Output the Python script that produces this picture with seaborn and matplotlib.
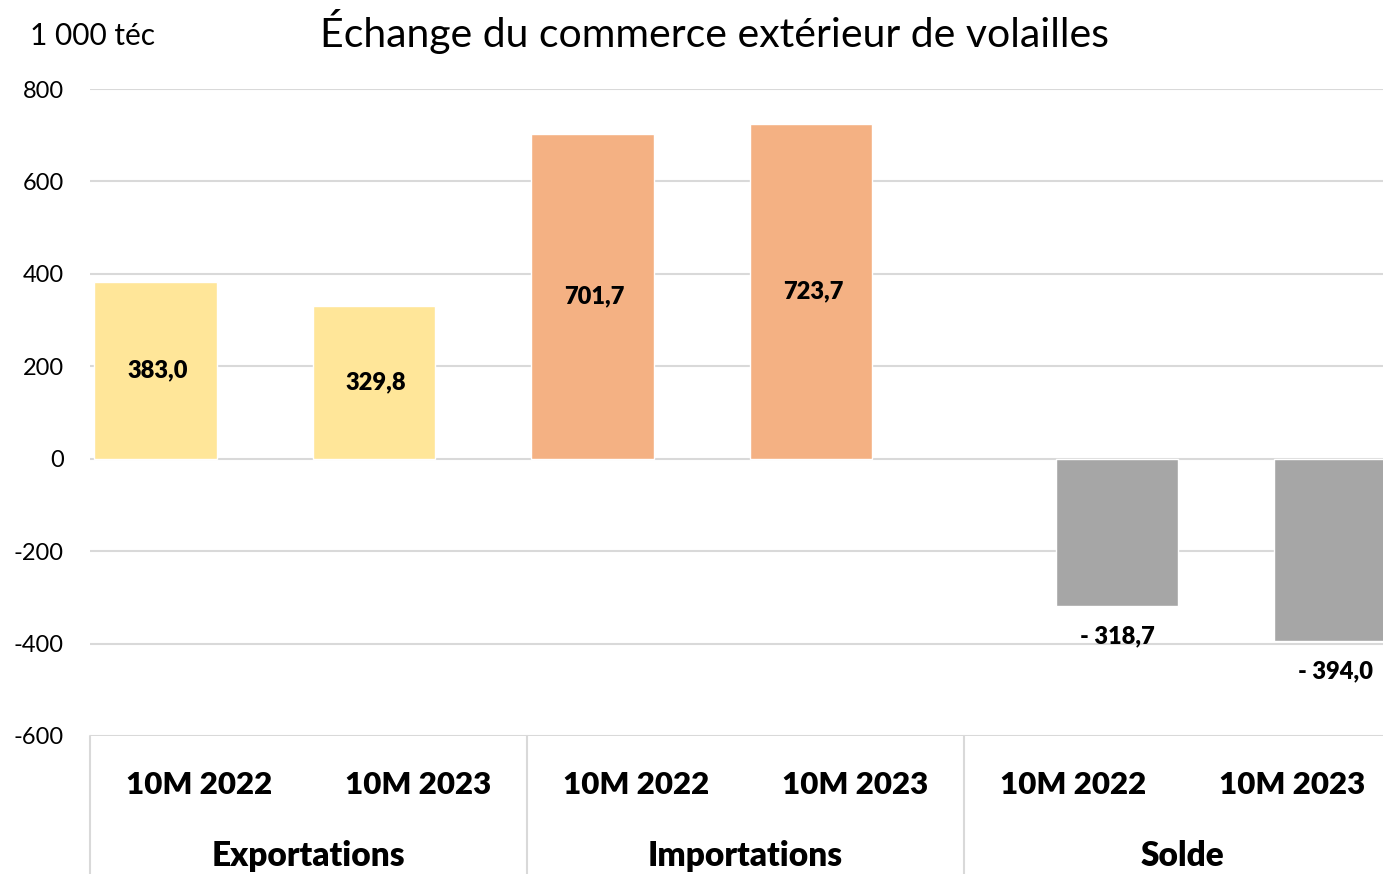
import numpy as np
import pandas as pd
import seaborn as sns
import matplotlib.pyplot as plt
import matplotlib.transforms as mtransforms

# ==========================================================
# Données (1 000 téc)
# ==========================================================
groupes = ["Exportations", "Exportations", "Importations", "Importations", "Solde", "Solde"]
periodes = ["10M 2022", "10M 2023", "10M 2022", "10M 2023", "10M 2022", "10M 2023"]
valeurs = [383.0, 329.8, 701.7, 723.7, -318.7, -394.0]
series = ["flux", "flux", "flux", "flux", "solde", "solde"]

couleurs = {"Exportations": "#FFE699", "Importations": "#F4B183", "Solde": "#A6A6A6"}
decalage = {"flux": -0.2, "solde": 0.2}   # barres décalées comme dans Excel

df = pd.DataFrame({"groupe": groupes, "periode": periodes, "valeur": valeurs, "serie": series})
df["pos"] = np.arange(len(df)) + df["serie"].map(decalage)

# ==========================================================
# Figure
# ==========================================================
sns.set_style("white")
plt.rcParams["font.family"] = ["Lato", "DejaVu Sans"]
plt.rcParams["axes.unicode_minus"] = False
plt.rcParams["text.color"] = "black"
plt.rcParams["ytick.color"] = "black"

fig = plt.figure(figsize=(13.83, 8.74), dpi=100)
ax = fig.add_axes([90 / 1383, 138 / 874, 1311 / 1383, 647 / 874])

sns.barplot(data=df, x="pos", y="valeur", hue="groupe", palette=couleurs,
            native_scale=True, dodge=False, width=0.56, saturation=1,
            errorbar=None, legend=False, ax=ax, zorder=2)

ax.set_xlim(-0.5, 5.5)
ax.set_ylim(-600, 800)
ax.set_yticks(range(-600, 801, 200))
ax.set_xticks([])
ax.set_xlabel("")
ax.set_ylabel("")
ax.grid(axis="y", color="#D9D9D9", linewidth=1.5, zorder=0)
ax.tick_params(axis="y", length=0, pad=19, labelsize=17, labelcolor="black")
for s in ax.spines.values():
    s.set_visible(False)

# étiquettes de valeurs
for p, v in zip(df["pos"], df["valeur"]):
    txt = f"{abs(v):.1f}".replace(".", ",")
    if v >= 0:
        ax.text(p + 0.01, v / 2, txt, ha="center", va="center", fontsize=17, fontweight="heavy")
    else:
        ax.annotate("- " + txt, (p, v), xytext=(0, -22), textcoords="offset points",
                    ha="center", va="center", fontsize=17, fontweight="heavy")

# axe des catégories à deux niveaux
trans = mtransforms.blended_transform_factory(ax.transData, ax.transAxes)
for i, per in enumerate(periodes):
    ax.text(i, -0.075, per, transform=trans, ha="center", va="center",
            fontsize=22.5, fontweight="heavy")
for k, g in enumerate(["Exportations", "Importations", "Solde"]):
    ax.text(2 * k + 0.5, -0.185, g, transform=trans, ha="center", va="center",
            fontsize=24, fontweight="heavy")
for xs in [-0.5, 1.5, 3.5]:
    ax.plot([xs, xs], [0, -0.25], transform=trans, color="#D9D9D9",
            linewidth=1.5, clip_on=False)

fig.text(714 / 1383, 1 - 32 / 874, "Échange du commerce extérieur de volailles",
         ha="center", va="center", fontsize=29.5)
fig.text(30 / 1383, 1 - 36 / 874, "1 000 téc", ha="left", va="center", fontsize=21.5)

fig.savefig("out.png", dpi=100)
